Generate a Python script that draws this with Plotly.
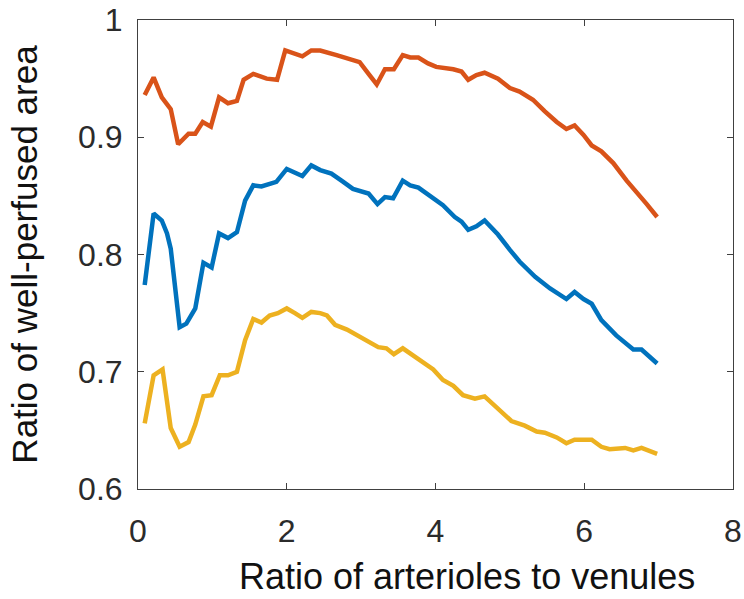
import plotly.graph_objects as go

# Orange series (top)
x_orange = [0.09, 0.21, 0.32, 0.44, 0.54, 0.68, 0.77, 0.87, 0.98, 1.09, 1.21, 1.33, 1.42, 1.55,
            1.73, 1.87, 1.98, 2.11, 2.21, 2.33, 2.45, 2.67, 2.85, 2.98, 3.10, 3.21, 3.32, 3.44,
            3.56, 3.66, 3.77, 3.90, 4.01, 4.24, 4.35, 4.44, 4.55, 4.66, 4.84, 5.00, 5.13, 5.31,
            5.47, 5.63, 5.76, 5.87, 5.99, 6.10, 6.23, 6.39, 6.57, 6.70, 6.84, 6.98]
y_orange = [0.936, 0.951, 0.934, 0.924, 0.894, 0.903, 0.903, 0.913, 0.909, 0.934, 0.929, 0.931,
            0.949, 0.954, 0.950, 0.949, 0.974, 0.971, 0.969, 0.974, 0.974, 0.970, 0.967, 0.964,
            0.954, 0.945, 0.958, 0.958, 0.970, 0.968, 0.968, 0.963, 0.960, 0.958, 0.956, 0.949,
            0.953, 0.955, 0.950, 0.942, 0.939, 0.932, 0.922, 0.913, 0.907, 0.910, 0.902, 0.893,
            0.888, 0.878, 0.863, 0.854, 0.843, 0.832]

# Blue series (middle)
x_blue = [0.09, 0.21, 0.32, 0.39, 0.44, 0.56, 0.65, 0.77, 0.88, 0.99, 1.09, 1.21, 1.33, 1.44,
          1.55, 1.66, 1.86, 2.00, 2.21, 2.33, 2.45, 2.60, 2.76, 2.89, 3.10, 3.22, 3.32, 3.43,
          3.56, 3.66, 3.77, 3.97, 4.10, 4.26, 4.35, 4.44, 4.55, 4.66, 4.84, 5.00, 5.13, 5.34,
          5.54, 5.76, 5.87, 5.99, 6.10, 6.23, 6.43, 6.66, 6.77, 6.98]
y_blue = [0.774, 0.835, 0.829, 0.818, 0.805, 0.738, 0.741, 0.754, 0.793, 0.789, 0.818, 0.814,
          0.819, 0.846, 0.859, 0.858, 0.862, 0.873, 0.867, 0.876, 0.872, 0.869, 0.862, 0.856,
          0.852, 0.843, 0.849, 0.848, 0.863, 0.859, 0.857, 0.848, 0.842, 0.832, 0.828, 0.821,
          0.824, 0.829, 0.817, 0.804, 0.794, 0.781, 0.771, 0.762, 0.768, 0.762, 0.758, 0.744,
          0.731, 0.719, 0.719, 0.707]

# Yellow series (bottom)
x_yellow = [0.09, 0.21, 0.33, 0.44, 0.56, 0.68, 0.77, 0.88, 0.99, 1.10, 1.21, 1.33, 1.44, 1.55,
            1.66, 1.77, 1.88, 2.00, 2.11, 2.21, 2.33, 2.45, 2.54, 2.65, 2.81, 2.98, 3.12, 3.23,
            3.34, 3.44, 3.56, 3.69, 3.86, 3.97, 4.10, 4.24, 4.37, 4.53, 4.66, 4.84, 5.02, 5.20,
            5.36, 5.47, 5.63, 5.76, 5.87, 6.10, 6.23, 6.34, 6.55, 6.66, 6.77, 6.98]
y_yellow = [0.656, 0.697, 0.702, 0.652, 0.636, 0.640, 0.655, 0.679, 0.680, 0.697, 0.697, 0.700,
            0.727, 0.745, 0.742, 0.748, 0.750, 0.754, 0.750, 0.746, 0.751, 0.750, 0.748, 0.740,
            0.736, 0.730, 0.724, 0.721, 0.720, 0.715, 0.720, 0.714, 0.706, 0.702, 0.693, 0.688,
            0.680, 0.677, 0.679, 0.668, 0.658, 0.654, 0.649, 0.648, 0.644, 0.639, 0.642, 0.642,
            0.636, 0.634, 0.635, 0.633, 0.635, 0.630]

x_ticks = [0, 2, 4, 6, 8]
y_ticks = [0.6, 0.7, 0.8, 0.9, 1.0]
y_tick_text = ["0.6", "0.7", "0.8", "0.9", "1"]

x_label = "Ratio of arterioles to venules"
y_label = "Ratio of well-perfused area"

fig = go.Figure()
for xs, ys, col in [(x_orange, y_orange, "#D95319"),
                    (x_blue, y_blue, "#0072BD"),
                    (x_yellow, y_yellow, "#EDB120")]:
    fig.add_trace(go.Scatter(x=xs, y=ys, mode="lines",
                             line=dict(color=col, width=4.5), showlegend=False))

axis_common = dict(showline=True, linecolor="#404040", linewidth=1, mirror="ticks",
                   ticks="inside", ticklen=6, tickcolor="#404040", showgrid=False,
                   zeroline=False, tickfont=dict(family="Liberation Sans", size=32, color="#2b2b2b"))

fig.update_xaxes(range=[0, 8], tickvals=x_ticks, ticktext=[str(t) for t in x_ticks],
                 ticklabelstandoff=14, automargin=False, **axis_common)
fig.update_yaxes(range=[0.6, 1.0], tickvals=y_ticks, ticktext=y_tick_text,
                 title=dict(text=y_label, font=dict(family="Liberation Sans", size=35, color="#111111"),
                            standoff=29),
                 ticklabelstandoff=8, automargin=False, **axis_common)

fig.add_annotation(text=x_label, xref="paper", yref="paper", x=0.553, y=0,
                   xanchor="center", yanchor="bottom", yshift=-109, showarrow=False,
                   borderpad=0,
                   font=dict(family="Liberation Sans", size=36, color="#111111"))

fig.update_layout(width=744, height=599, margin=dict(l=138, r=11, t=20, b=110),
                  plot_bgcolor="white", paper_bgcolor="white")

fig.write_html("out.html")
